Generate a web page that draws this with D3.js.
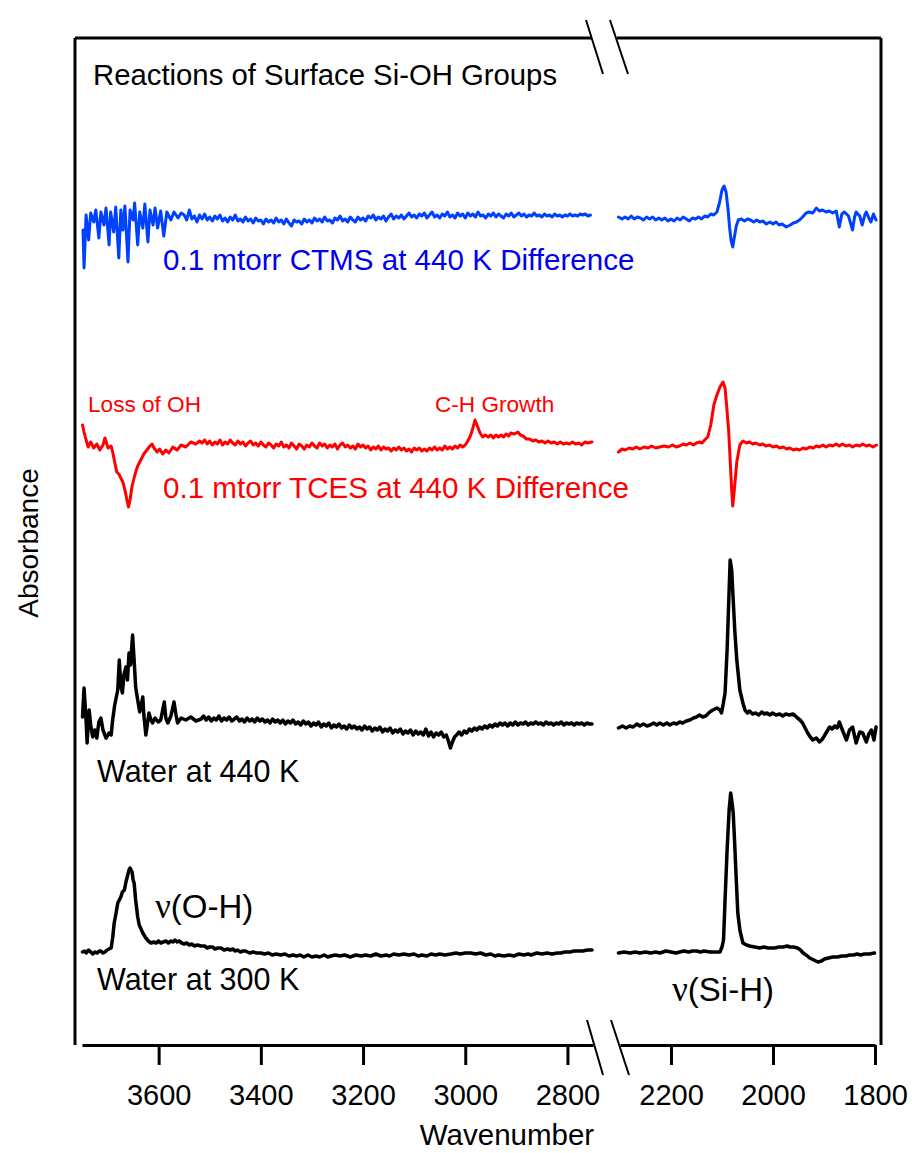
<!DOCTYPE html>
<html><head><meta charset="utf-8">
<script src="https://cdnjs.cloudflare.com/ajax/libs/d3/7.8.5/d3.min.js"></script>
<style>body{margin:0;background:#fff} text{font-family:"Liberation Sans",Arial,sans-serif}</style>
</head><body><svg id="c" width="912" height="1153"></svg>
<script>
// ---- data ----
const leftTicks = [3600, 3400, 3200, 3000, 2800];
const rightTicks = [2200, 2000, 1800];
const leftDomain = [3750, 2750];
const rightDomain = [2300, 1800];
const absDomain = [0, 100.7];
// stacking offsets (absorbance units, arbitrary)
const offsets = { ctms: 82.7, tces: 59.9, w440: 32.0, w300: 9.3 };

const ctmsLeft = [[3748,-1.2],[3746,-5.0],[3742,0.3],[3737,-2.2],[3733,0.5],[3727,-0.4],[3723,0.8],[3717,-2.0],[3713,0.6],[3707,-0.7],[3703,1.0],[3697,-2.7],[3694,0.6],[3688,-1.4],[3684,1.1],[3678,-4.0],[3674,0.8],[3670,-1.2],[3666,1.2],[3660,-4.4],[3656,0.8],[3650,-0.2],[3647,1.5],[3641,-2.7],[3637,0.6],[3631,-1.0],[3627,1.4],[3621,-2.4],[3617,0.8],[3611,-0.7],[3607,1.0],[3602,-1.0],[3596,0.7],[3590,-1.8],[3584,0.6],[3576,-0.2],[3570,0.6],[3562,0],[3556,0.5],
[3550,0.3],[3545,-0.2],[3540,0.8],[3535,-0.1],[3530,0.2],[3525,-0.4],[3520,0.3],[3515,-0.1],[3510,0.4],[3505,-0.2],[3500,0.1],[3495,-0.3],[3490,0.2],[3485,-0.1],[3480,0.3],[3475,-0.3],[3470,0.0],[3465,-0.4],[3460,0.1],[3455,-0.2],[3450,0.3],[3445,-0.3],[3440,-0.1],[3435,-0.4],[3430,0.1],[3425,-0.3],[3420,-0.1],[3415,-0.5],[3410,0.0],[3405,-0.3],[3400,-0.2],[3395,-0.6],[3390,-0.1],[3385,-0.4],[3380,-0.2],[3375,-0.5],[3370,0.0],[3365,-0.4],[3360,-0.2],[3355,-0.6],[3350,-0.1],[3345,-0.5],[3340,-0.8],[3335,-0.2],[3330,-0.4],[3325,-0.3],[3320,-0.6],[3315,-0.1],[3310,-0.4],[3305,-0.2],[3300,-0.5],[3295,0.0],[3290,-0.3],[3285,-0.1],[3280,-0.4],[3275,0.1],[3270,-0.3],[3265,-0.2],[3260,-0.5],[3255,0.0],[3250,-0.2],[3245,0.2],[3240,-0.3],[3235,-0.1],[3230,-0.4],[3225,0.1],[3220,-0.2],[3215,-0.4],[3210,0.1],[3205,-0.2],[3200,0.0],[3195,-0.3],[3190,0.2],[3185,0.0],[3180,0.3],[3175,-0.2],[3170,0.1],[3165,-0.1],[3160,0.2],[3155,-0.3],[3150,0.1],[3145,0.4],[3140,-0.1],[3135,0.2],[3130,0.0],[3125,0.3],[3120,-0.1],[3115,0.2],[3110,0.5],[3105,0.1],[3100,0.3],[3095,0.0],[3090,0.4],[3085,0.2],[3080,0.5],[3075,0.0],[3070,0.3],[3065,0.6],[3060,0.1],[3055,0.3],[3050,0.0],[3045,0.4],[3040,0.2],[3035,0.6],[3030,0.1],[3025,0.3],[3020,0.0],[3015,0.5],[3010,0.2],[3005,0.4],[3000,0.0],[2995,0.5],[2990,0.2],[2985,0.4],[2980,0.1],[2975,0.6],[2970,0.2],[2965,0.3],[2960,0.0],[2955,0.4],[2950,0.2],[2945,0.5],[2940,0.1],[2935,0.4],[2930,0.2],[2925,0.0],[2920,0.4],[2915,0.2],[2910,0.5],[2905,0.1],[2900,0.3],[2895,0.5],[2890,0.2],[2885,0.4],[2880,0.1],[2875,0.3],[2870,0.2],[2865,0.5],[2860,0.2],[2855,0.3],[2850,0.1],[2845,0.4],[2840,0.2],[2835,0.3],[2830,0.1],[2825,0.4],[2820,0.2],[2815,0.3],[2810,0.1],[2805,0.3],[2800,0.2],[2795,0.4],[2790,0.2],[2785,0.3],[2780,0.2],[2775,0.4],[2770,0.3],[2765,0.4],[2760,0.2],[2755,0.3]];
const ctmsRight = [[2303,0.1],[2296,-0.1],[2290,0.1],[2284,-0.1],[2278,0.2],[2272,-0.1],[2266,0.1],[2260,0.0],[2254,-0.2],[2248,0.1],[2242,-0.1],[2236,0.1],[2230,-0.2],[2224,0.0],[2218,-0.2],[2212,0.0],[2206,-0.3],[2200,-0.1],[2194,-0.3],[2188,0.0],[2182,-0.2],[2176,0.1],[2170,-0.1],[2164,-0.3],[2158,0.0],[2152,-0.1],[2146,0.1],[2140,-0.1],[2134,0.2],[2128,0.1],[2122,0.4],[2116,0.3],[2110,0.6],[2105,1.5],[2100,2.8],[2096,3.2],[2092,2.6],[2088,0.8],[2085,-1.0],[2082,-2.3],[2079,-2.9],[2076,-2.0],[2072,-0.8],[2068,-0.2],[2062,-0.1],[2056,-0.3],[2050,-0.1],[2044,-0.2],[2038,-0.4],[2032,-0.2],[2026,-0.4],[2020,-0.3],[2013,-0.6],[2006,-0.4],[2000,-0.6],[1994,-0.4],[1988,-0.7],[1982,-0.6],[1974,-0.9],[1966,-0.7],[1960,-0.5],[1954,-0.4],[1948,-0.2],[1942,0.1],[1935,0.5],[1929,0.6],[1922,0.5],[1915,1.0],[1909,0.7],[1903,0.8],[1896,0.6],[1890,0.7],[1883,0.5],[1876,0.7],[1870,-0.9],[1865,0.4],[1860,0.6],[1852,0.2],[1844,-1.2],[1840,0.1],[1837,0.6],[1830,0.2],[1825,-0.7],[1820,0.3],[1817,0.6],[1812,0.0],[1808,-0.4],[1803,0.4],[1798,-0.2]];

const tcesLeft = [[3749,2.1],[3746,1.4],[3742,0.6],[3738,-0.1],[3733,0.4],[3727,-0.2],[3721,0.2],[3715,-0.4],[3709,0.1],[3705,0.8],[3699,-0.2],[3693,0.0],[3690,-0.6],[3686,-1.6],[3682,-2.6],[3678,-2.8],[3674,-3.2],[3670,-3.6],[3666,-4.4],[3662,-5.4],[3659,-6.1],[3656,-5.4],[3652,-4.0],[3648,-3.2],[3645,-2.6],[3641,-2.0],[3635,-1.4],[3629,-0.8],[3623,-0.4],[3617,0.0],[3613,0.2],[3609,-0.2],[3603,-0.6],[3598,-0.3],[3592,-0.8],[3586,-0.4],[3580,-0.7],[3572,-0.1],[3564,-0.4],[3556,0.1],[3547,-0.1],[3537,0.4],[3527,0.2],[3520,0.5],
[3515,0.3],[3510,0.6],[3505,0.2],[3500,0.5],[3495,0.1],[3490,0.4],[3485,0.2],[3480,0.6],[3475,0.1],[3470,0.4],[3465,0.2],[3460,0.6],[3455,0.3],[3450,0.1],[3445,0.5],[3440,0.2],[3435,0.4],[3430,0.0],[3425,0.3],[3420,0.5],[3415,0.1],[3410,0.3],[3405,0.0],[3400,0.4],[3395,0.1],[3390,-0.1],[3385,0.3],[3380,0.1],[3375,-0.2],[3370,0.2],[3365,0.0],[3360,0.4],[3355,-0.1],[3350,0.1],[3345,-0.2],[3340,0.3],[3335,0.0],[3330,-0.3],[3325,0.2],[3320,0.0],[3315,-0.3],[3310,0.1],[3305,-0.1],[3300,0.3],[3295,0.0],[3290,-0.2],[3285,0.3],[3280,0.0],[3275,0.2],[3270,-0.2],[3265,0.1],[3260,-0.1],[3255,0.2],[3250,-0.3],[3245,0.1],[3240,0.3],[3235,-0.1],[3230,0.1],[3225,-0.2],[3220,0.0],[3215,-0.3],[3210,0.2],[3205,-0.1],[3200,0.1],[3195,-0.2],[3190,0.0],[3185,-0.4],[3180,-0.1],[3175,-0.3],[3170,0.0],[3165,-0.4],[3160,-0.1],[3155,-0.3],[3150,-0.2],[3145,-0.5],[3140,-0.2],[3135,-0.4],[3130,-0.1],[3125,-0.4],[3120,-0.2],[3115,-0.5],[3110,-0.3],[3105,-0.6],[3100,-0.2],[3095,-0.4],[3090,-0.2],[3085,-0.5],[3080,-0.3],[3075,-0.5],[3070,-0.2],[3065,-0.4],[3060,-0.1],[3055,-0.4],[3050,-0.2],[3045,-0.4],[3040,0.0],[3035,-0.3],[3030,-0.1],[3025,-0.3],[3020,0.0],[3015,-0.2],[3010,0.1],[3005,-0.1],[3000,0.1],
[2995,0.5],[2990,1.0],[2985,1.8],[2981,2.6],[2977,2.1],[2971,1.3],[2966,0.9],[2961,1.1],[2955,0.9],[2950,1.1],[2945,0.8],[2940,1.1],[2935,0.9],[2930,1.1],[2925,0.9],[2920,1.2],[2915,1.0],[2911,1.3],[2904,1.2],[2897,1.4],[2892,1.1],[2887,1.0],[2880,0.7],[2874,0.7],[2868,0.5],[2862,0.6],[2856,0.4],[2850,0.5],[2844,0.3],[2838,0.5],[2832,0.3],[2826,0.4],[2820,0.2],[2814,0.4],[2808,0.2],[2802,0.3],[2796,0.2],[2790,0.4],[2784,0.2],[2778,0.3],[2772,0.1],[2766,0.4],[2760,0.3],[2752,0.4]];
const tcesRight = [[2303,-0.6],[2296,-0.3],[2290,-0.4],[2282,-0.2],[2275,-0.3],[2268,-0.1],[2261,-0.3],[2253,-0.1],[2245,-0.2],[2238,0.0],[2230,-0.2],[2222,-0.1],[2214,0.0],[2205,-0.1],[2197,0.1],[2190,-0.1],[2183,0.0],[2176,0.2],[2170,0.1],[2163,0.3],[2156,0.1],[2150,0.3],[2144,0.4],[2139,0.3],[2134,0.6],[2128,0.9],[2122,2.1],[2116,4.1],[2110,5.1],[2104,5.9],[2098,6.4],[2094,5.8],[2091,4.1],[2087,1.6],[2084,-1.4],[2081,-4.4],[2079,-6.0],[2075,-3.9],[2071,-1.6],[2065,0.1],[2059,0.5],[2052,0.3],[2046,0.4],[2040,0.2],[2034,0.3],[2026,0.1],[2020,0.2],[2014,0.0],[2007,0.1],[2000,-0.1],[1993,0.0],[1987,-0.2],[1980,-0.1],[1973,-0.3],[1967,-0.2],[1960,-0.4],[1954,-0.3],[1948,-0.4],[1941,-0.2],[1935,-0.3],[1928,-0.1],[1921,-0.2],[1915,0.0],[1909,-0.1],[1902,0.1],[1896,-0.1],[1889,0.1],[1883,0.0],[1876,0.2],[1870,0.0],[1864,0.2],[1857,0.0],[1850,0.1],[1844,-0.1],[1837,0.1],[1830,0.0],[1824,0.2],[1817,0.0],[1811,0.1],[1804,-0.1],[1797,0.1]];

const w440Left = [[3749,0.8],[3746,3.7],[3742,0.5],[3740,-1.8],[3736,1.5],[3733,0.0],[3729,-1.2],[3725,-0.5],[3721,-1.3],[3717,0.3],[3713,0.7],[3709,-0.5],[3703,-1.3],[3697,-0.8],[3693,-1.0],[3690,0.5],[3686,2.0],[3684,2.5],[3680,3.5],[3677,6.5],[3674,4.0],[3671,3.2],[3668,5.0],[3664,5.8],[3661,4.5],[3658,7.2],[3655,6.0],[3651,9.0],[3648,6.5],[3645,3.8],[3641,2.5],[3637,1.3],[3631,2.8],[3629,1.0],[3625,-1.0],[3619,1.2],[3615,0.5],[3612,0.2],[3607,0.7],[3601,0.3],[3596,0.5],[3589,2.3],[3586,0.7],[3582,0.2],[3576,0.9],[3570,2.3],[3566,1.0],[3563,0.2],[3556,0.7],[3547,0.5],[3537,0.8],[3527,0.4],[3517,0.6],
[3512,0.9],[3507,0.5],[3502,0.8],[3497,0.4],[3492,0.7],[3487,0.5],[3482,0.9],[3477,0.4],[3472,0.7],[3467,0.5],[3462,0.8],[3457,0.4],[3452,0.6],[3447,0.8],[3442,0.4],[3437,0.6],[3432,0.3],[3427,0.7],[3422,0.4],[3417,0.6],[3412,0.3],[3407,0.7],[3402,0.4],[3397,0.6],[3392,0.3],[3387,0.5],[3382,0.2],[3377,0.6],[3372,0.3],[3367,0.5],[3362,0.2],[3357,0.5],[3352,0.1],[3347,0.4],[3342,0.2],[3337,0.5],[3332,0.1],[3327,0.3],[3322,0.0],[3317,0.4],[3312,0.1],[3307,0.3],[3302,-0.1],[3297,0.2],[3292,0.0],[3287,0.3],[3282,-0.2],[3277,0.1],[3272,-0.1],[3267,0.2],[3262,-0.3],[3257,0.0],[3252,-0.2],[3247,0.1],[3242,-0.3],[3237,-0.1],[3232,-0.4],[3227,0.0],[3222,-0.3],[3217,-0.1],[3212,-0.4],[3207,-0.2],[3202,-0.5],[3197,-0.1],[3192,-0.4],[3187,-0.2],[3182,-0.6],[3177,-0.3],[3172,-0.5],[3167,-0.2],[3162,-0.7],[3157,-0.4],[3152,-0.6],[3147,-0.3],[3142,-0.8],[3137,-0.5],[3132,-0.7],[3127,-0.4],[3122,-0.9],[3117,-0.6],[3112,-0.8],[3107,-0.5],[3102,-1.0],[3097,-0.6],[3092,-0.9],[3087,-0.7],[3082,-1.0],[3077,-0.4],[3072,-1.1],[3067,-0.7],[3062,-1.2],[3057,-0.8],[3052,-1.0],[3047,-0.7],[3042,-1.2],[3037,-1.0],[3033,-1.6],[3029,-2.3],[3025,-1.7],[3021,-1.2],[3017,-1.0],[3012,-0.7],[3007,-1.0],[3002,-0.6],[2997,-0.8],[2992,-0.4],[2987,-0.6],[2982,-0.3],[2977,-0.5],[2972,-0.2],[2967,-0.4],[2962,-0.1],[2957,-0.3],[2952,0.0],[2947,-0.2],[2942,0.1],[2937,-0.1],[2932,0.2],[2927,0.0],[2922,0.2],[2917,-0.1],[2912,0.2],[2907,0.0],[2902,0.3],[2897,0.0],[2892,0.2],[2887,0.1],[2882,0.3],[2877,0.0],[2872,0.2],[2867,0.1],[2862,0.3],[2857,0.1],[2852,0.2],[2847,0.0],[2842,0.3],[2837,0.1],[2832,0.2],[2827,0.0],[2822,0.2],[2817,0.1],[2812,0.3],[2807,0.0],[2802,0.2],[2797,0.1],[2792,0.2],[2787,0.0],[2782,0.2],[2777,0.1],[2772,0.2],[2767,0.0],[2762,0.2],[2757,0.1],[2752,0.1]];
const w440Right = [[2303,-0.3],[2295,-0.1],[2288,-0.3],[2281,-0.1],[2274,-0.2],[2267,0.1],[2261,-0.1],[2254,0.1],[2247,-0.1],[2241,0.0],[2234,0.2],[2228,0.0],[2222,0.2],[2215,0.0],[2208,0.2],[2202,0.0],[2195,0.2],[2189,0.1],[2183,0.3],[2177,0.2],[2170,0.4],[2163,0.5],[2156,0.7],[2150,0.8],[2144,1.0],[2138,0.8],[2132,0.9],[2124,1.3],[2118,1.5],[2110,1.7],[2104,1.5],[2101,1.2],[2098,2.0],[2094,3.2],[2090,7.5],[2086,13.5],[2084,16.5],[2081,15.5],[2078,12.5],[2075,9.5],[2071,6.5],[2065,3.5],[2059,2.2],[2055,1.5],[2050,1.2],[2046,1.4],[2040,1.1],[2034,1.2],[2028,1.0],[2022,1.3],[2017,1.1],[2012,1.2],[2006,1.0],[2001,1.2],[1994,1.0],[1987,1.1],[1981,0.9],[1975,1.1],[1968,1.0],[1961,1.1],[1956,0.9],[1952,0.7],[1947,0.5],[1942,0.2],[1937,-0.3],[1932,-0.8],[1927,-1.2],[1922,-1.5],[1915,-1.3],[1909,-1.7],[1903,-1.4],[1896,-0.8],[1889,-0.2],[1884,-0.4],[1879,-0.1],[1874,-0.3],[1870,0.3],[1864,-0.5],[1856,-1.5],[1850,-0.5],[1844,-0.2],[1837,-1.8],[1830,-0.7],[1824,-0.8],[1817,-1.7],[1812,-0.9],[1807,-0.5],[1802,-1.5],[1798,-0.2]];

const w300Left = [[3749,0.0],[3745,0.1],[3742,-0.1],[3737,0.2],[3733,0.0],[3729,-0.2],[3725,0.0],[3720,-0.1],[3716,0.1],[3713,0.1],[3709,-0.1],[3705,0.0],[3701,0.2],[3697,0.3],[3693,0.4],[3690,1.4],[3687,2.9],[3684,3.7],[3680,4.9],[3677,5.2],[3674,5.5],[3671,6.0],[3667,6.2],[3664,7.0],[3661,7.6],[3658,8.2],[3656,8.4],[3652,8.0],[3650,7.2],[3648,6.9],[3645,5.2],[3641,3.5],[3638,2.7],[3631,1.9],[3625,1.4],[3620,1.1],[3615,0.9],[3610,1.0],[3605,0.9],[3600,1.1],[3596,0.9],[3591,1.0],[3586,1.1],[3581,0.9],[3576,1.1],[3572,1.0],[3568,1.2],[3564,1.0],[3560,1.1],[3555,0.9],[3550,0.8],[3545,0.9],[3540,0.7],[3535,0.8],[3530,0.6],[3524,0.7],[3517,0.6],[3510,0.6],[3505,0.4],[3500,0.5],[3494,0.5],[3490,0.3],[3484,0.4],[3478,0.4],[3472,0.2],[3465,0.3],[3460,0.2],[3455,0.3],[3450,0.1],[3446,0.2],[3440,0.0],[3435,0.1],[3430,0.1],[3422,-0.1],[3415,0.0],[3408,-0.1],[3400,-0.1],[3393,-0.2],[3385,-0.1],[3378,-0.3],[3370,-0.2],[3361,-0.3],[3353,-0.2],[3345,-0.4],[3337,-0.3],[3330,-0.4],[3323,-0.3],[3316,-0.5],[3308,-0.3],[3300,-0.5],[3292,-0.4],[3285,-0.5],[3276,-0.3],[3269,-0.5],[3263,-0.4],[3254,-0.3],[3245,-0.4],[3236,-0.3],[3225,-0.5],[3214,-0.3],[3204,-0.4],[3195,-0.3],[3185,-0.4],[3175,-0.2],[3165,-0.4],[3155,-0.3],[3148,-0.4],[3140,-0.2],[3130,-0.3],[3120,-0.2],[3110,-0.3],[3100,-0.2],[3092,-0.4],[3085,-0.3],[3075,-0.4],[3067,-0.2],[3058,-0.3],[3050,-0.2],[3040,-0.3],[3028,-0.2],[3018,-0.1],[3010,-0.2],[3000,-0.1],[2989,-0.1],[2980,-0.2],[2970,-0.1],[2960,-0.3],[2950,-0.2],[2942,-0.4],[2935,-0.3],[2924,-0.4],[2914,-0.3],[2905,-0.4],[2895,-0.2],[2885,-0.3],[2877,-0.2],[2871,-0.3],[2860,-0.1],[2850,-0.2],[2840,-0.1],[2830,-0.2],[2820,-0.1],[2813,-0.1],[2805,0.0],[2795,0.0],[2787,0.1],[2780,0.1],[2770,0.1],[2761,0.2],[2752,0.2]];
const w300Right = [[2303,-0.1],[2292,0.0],[2280,-0.1],[2270,0.0],[2261,-0.1],[2250,0.0],[2240,-0.1],[2230,0.0],[2222,-0.1],[2210,0.1],[2200,0.0],[2190,-0.1],[2183,0.0],[2175,0.1],[2165,0.0],[2158,0.1],[2150,0.1],[2142,0.0],[2135,0.1],[2124,0.0],[2115,0.0],[2108,0.0],[2104,0.0],[2100,0.5],[2097,1.2],[2094,5.2],[2090,10.2],[2086,14.2],[2083,15.9],[2081,15.2],[2078,13.9],[2075,10.7],[2072,7.2],[2069,3.9],[2065,2.2],[2059,0.9],[2052,0.7],[2046,0.6],[2036,0.5],[2026,0.4],[2018,0.5],[2010,0.4],[2002,0.4],[1997,0.4],[1988,0.5],[1980,0.5],[1972,0.6],[1967,0.5],[1960,0.5],[1952,0.4],[1946,0.2],[1941,-0.1],[1935,-0.3],[1928,-0.6],[1920,-0.8],[1912,-1.0],[1905,-0.9],[1899,-0.7],[1891,-0.6],[1883,-0.5],[1874,-0.5],[1865,-0.4],[1857,-0.4],[1850,-0.3],[1842,-0.3],[1835,-0.2],[1828,-0.3],[1821,-0.2],[1811,-0.2],[1801,-0.1]];

const series = [
  { key: "ctms", color: "#0040ff", width: 3, left: ctmsLeft, right: ctmsRight },
  { key: "tces", color: "#ff0000", width: 3, left: tcesLeft, right: tcesRight },
  { key: "w440", color: "#000000", width: 3.5, left: w440Left, right: w440Right },
  { key: "w300", color: "#000000", width: 3.5, left: w300Left, right: w300Right }
];

const labels = [
  { text: "Reactions of Surface Si-OH Groups", x: 93, y: 85, size: 29.3, color: "#000" },
  { text: "0.1 mtorr CTMS at 440 K Difference", x: 163, y: 270, size: 29.6, color: "#0000ee" },
  { text: "Loss of OH", x: 88, y: 412, size: 22.6, color: "#ff0000" },
  { text: "C-H Growth", x: 435, y: 412, size: 22.6, color: "#ff0000" },
  { text: "0.1 mtorr TCES at 440 K Difference", x: 163, y: 498, size: 29.6, color: "#ff0000" },
  { text: "Water at 440 K", x: 97, y: 782, size: 30.5, color: "#000" },
  { text: "Water at 300 K", x: 97, y: 990, size: 30.5, color: "#000" }
];

// ---- drawing ----
const svg = d3.select("#c");
const frame = { left: 75, right: 881, top: 38, bottom: 1045 };
const xL = d3.scaleLinear().domain(leftDomain).range([82, 593]);
const xR = d3.scaleLinear().domain(rightDomain).range([620, 875]);
const y = d3.scaleLinear().domain(absDomain).range([frame.bottom, frame.top]);

// traces
series.forEach(s => {
  const off = offsets[s.key];
  [[s.left, xL], [s.right, xR]].forEach(([data, xs]) => {
    svg.append("path")
      .datum(data)
      .attr("fill", "none")
      .attr("stroke", s.color)
      .attr("stroke-width", s.width)
      .attr("stroke-linejoin", "round")
      .attr("stroke-linecap", "round")
      .attr("d", d3.line().x(d => xs(d[0])).y(d => y(d[1] + off)));
  });
});

// frame
const fr = svg.append("g").attr("stroke", "#000").attr("stroke-width", 3);
fr.append("line").attr("x1", frame.left).attr("x2", frame.left).attr("y1", frame.top).attr("y2", frame.bottom);
fr.append("line").attr("x1", frame.right).attr("x2", frame.right).attr("y1", frame.top).attr("y2", frame.bottom);
fr.append("line").attr("x1", frame.left).attr("x2", 592).attr("y1", frame.top).attr("y2", frame.top);
fr.append("line").attr("x1", 617).attr("x2", frame.right).attr("y1", frame.top).attr("y2", frame.top);

// axes
function styleAxis(g) {
  g.selectAll("path.domain").attr("stroke-width", 3).attr("stroke", "#000");
  g.selectAll(".tick line").attr("stroke-width", 3).attr("stroke", "#000");
  g.selectAll(".tick text").attr("font-size", 29).attr("fill", "#000")
    .attr("font-family", '"Liberation Sans", Arial, sans-serif');
}
svg.append("g").attr("transform", `translate(0,${frame.bottom})`)
  .call(d3.axisBottom(xL).tickValues(leftTicks).tickSize(20).tickSizeOuter(0).tickPadding(19).tickFormat(d3.format("d")))
  .call(styleAxis);
svg.append("g").attr("transform", `translate(0,${frame.bottom})`)
  .call(d3.axisBottom(xR).tickValues(rightTicks).tickSize(20).tickSizeOuter(0).tickPadding(19).tickFormat(d3.format("d")))
  .call(styleAxis);

// break marks
const br = svg.append("g").attr("stroke", "#000").attr("stroke-width", 2);
[[586, 20, 603, 74], [610, 20, 628, 74], [587, 1020, 603, 1075], [611, 1020, 629, 1075]].forEach(l =>
  br.append("line").attr("x1", l[0]).attr("y1", l[1]).attr("x2", l[2]).attr("y2", l[3]));

// labels
labels.forEach(l => svg.append("text").attr("x", l.x).attr("y", l.y)
  .attr("font-size", l.size).attr("fill", l.color).text(l.text));

const nu1 = svg.append("text").attr("x", 155).attr("y", 918).attr("font-size", 33).attr("fill", "#000");
nu1.append("tspan").attr("font-family", '"Liberation Serif", serif').attr("font-size", 35).text("ν");
nu1.append("tspan").text("(O-H)");
const nu2 = svg.append("text").attr("x", 672).attr("y", 1001).attr("font-size", 33).attr("fill", "#000");
nu2.append("tspan").attr("font-family", '"Liberation Serif", serif').attr("font-size", 35).text("ν");
nu2.append("tspan").text("(Si-H)");

svg.append("text").attr("x", 507).attr("y", 1145).attr("text-anchor", "middle")
  .attr("font-size", 29.5).attr("fill", "#000").text("Wavenumber");
svg.append("text").attr("transform", "translate(38,543) rotate(-90)").attr("text-anchor", "middle")
  .attr("font-size", 28).attr("fill", "#000").text("Absorbance");
</script></body></html>
